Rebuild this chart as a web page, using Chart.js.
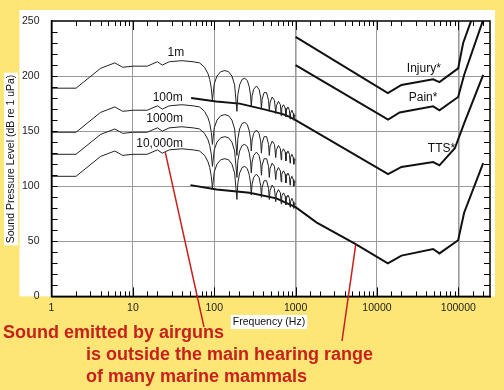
<!DOCTYPE html>
<html>
<head>
<meta charset="utf-8">
<script src="https://cdn.jsdelivr.net/npm/chart.js@4.4.1/dist/chart.umd.min.js"></script>
<style>
  html, body { margin: 0; padding: 0; background: #fde676; }
  #wrap { width: 504px; height: 390px; }
</style>
</head>
<body>
<div id="wrap"><canvas id="spl-chart" width="504" height="390"></canvas></div>
<script>
// airgun source spectrum at different ranges (Hz / dB re 1 uPa)
const srcFreq = [1, 2, 4, 6, 7.5, 10, 15, 20, 23, 28, 40, 55, 66, 76, 84, 88, 92,
  95, 100, 108, 120, 135, 150, 165, 178,
  190, 195, 205, 220, 237, 255, 270, 280,
  285, 292, 305, 330, 355, 372,
  380, 388, 410, 440, 465,
  475, 485, 515, 550,
  570, 580, 615, 650,
  665, 675, 710, 745,
  760, 770, 805, 840,
  855, 865, 900, 935,
  950, 960, 1000];
const spl1m = [189, 189, 207, 212, 208, 209, 209, 213, 210, 213, 214, 213, 212, 208, 202, 197, 189,
  178, 193, 200, 204, 205, 204, 200, 192,
  168, 183, 192, 197, 198, 196, 190, 182,
  172, 182, 188, 191, 188, 181,
  170, 179, 185, 185, 178,
  168, 176, 181, 178,
  166, 173, 177, 174,
  164, 171, 174, 171,
  163, 169, 172, 169,
  161, 166, 169, 166,
  160, 164, 164];
const spl100m = [149, 149, 167, 172, 168, 169, 169, 173, 170, 173, 174, 173, 172, 168, 162, 157, 149,
  138, 153, 160, 164, 165, 164, 160, 152,
  128, 143, 152, 157, 158, 156, 150, 142,
  132, 142, 148, 151, 148, 141,
  130, 139, 145, 145, 138,
  128, 136, 141, 138,
  126, 133, 137, 134,
  124, 131, 134, 131,
  123, 129, 132, 129,
  121, 126, 129, 126,
  120, 124, 124];
const spl1000m = [129, 129, 147, 152, 148, 149, 149, 153, 150, 153, 154, 153, 152, 148, 142, 137, 129,
  118, 133, 140, 144, 145, 144, 140, 132,
  108, 123, 132, 137, 138, 136, 130, 122,
  112, 122, 128, 131, 128, 121,
  110, 119, 125, 125, 118,
  108, 116, 121, 118,
  106, 113, 117, 114,
  104, 111, 114, 111,
  103, 109, 112, 109,
  101, 106, 109, 106,
  100, 104, 104];
const spl10000m = [109, 109, 127, 132, 128, 129, 129, 133, 130, 133, 134, 133, 132, 128, 122, 117, 109,
  98, 113, 120, 124, 125, 124, 120, 112,
  88, 103, 112, 117, 118, 116, 110, 102,
  92, 102, 108, 111, 108, 101,
  90, 99, 105, 105, 98,
  88, 96, 101, 98,
  86, 93, 97, 94,
  84, 91, 94, 91,
  83, 89, 92, 89,
  81, 86, 89, 86,
  80, 84, 84];

// marine mammal thresholds
const injuryFreq = [1000, 13600, 20000, 49000, 58600, 99500, 114600, 145000];
const injurySpl = [235.5, 184.5, 192, 197, 194.5, 207, 230, 251];
const painFreq = [1000, 13700, 19000, 49000, 58600, 99500, 117800, 202000];
const painSpl = [210, 160.5, 167, 172.5, 169, 181, 201, 251];
const ttsFreq = [52, 106, 205, 400, 697, 846, 1000, 13700, 20000, 49000, 58600, 90600, 117800, 202000];
const ttsSpl = [180, 177, 175, 170, 165.5, 163, 160, 111, 117.5, 122, 119, 134.5, 157, 201];
const hearingFreq = [51, 107, 272, 580, 1000, 1820, 5340, 13600, 20000, 49000, 58600, 99500, 117800, 202000];
const hearingSpl = [101, 97, 94, 89, 81, 67, 48, 30, 37, 43, 39, 51, 76, 121];

// axis tick labels
const xTickLabels = ['1', '10', '100', '1000', '10000', '100000'];
const yTickLabels = ['0', '50', '100', '150', '200', '250'];

const FONT = '"Liberation Sans", Arial, Helvetica, sans-serif';
const YELLOW = '#fde676';
const RED = '#c8201c';

function pts(xs, ys) {
    return xs.map((x, i) => ({ x: x, y: ys[i] }));
}

function isDecade(v) {
    const l = Math.log10(v);
    return Math.abs(l - Math.round(l)) < 1e-6;
}

// text labels anchored in data coordinates (left edge, middle)
const curveLabels = [
    { text: '1m', x: 26.7, y: 221 },
    { text: '100m', x: 17.5, y: 180 },
    { text: '1000m', x: 14.6, y: 161 },
    { text: '10,000m', x: 11, y: 139 },
    { text: 'Injury*', x: 23300, y: 207 },
    { text: 'Pain*', x: 24600, y: 180 },
    { text: 'TTS*', x: 42200, y: 134 }
];

const framePlugin = {
    id: 'frame',
    beforeDraw(chart) {
        const { ctx, chartArea: a } = chart;
        ctx.save();
        ctx.fillStyle = YELLOW;
        ctx.fillRect(0, 0, chart.width, chart.height);
        ctx.fillStyle = '#fff';
        ctx.fillRect(a.left - 32, a.top - 11, a.right - a.left + 37, a.bottom - a.top + 11);
        ctx.restore();
    },
    afterDraw(chart) {
        const { ctx, chartArea: a, scales } = chart;
        const x = scales.x, y = scales.y;
        ctx.save();
        // frame
        ctx.strokeStyle = '#000';
        ctx.lineWidth = 1.5;
        ctx.strokeRect(a.left, a.top, a.right - a.left, a.bottom - a.top);

        // inward ticks
        ctx.lineWidth = 1;
        ctx.beginPath();
        x.ticks.forEach(t => {
            if (t.value <= 1 || t.value >= x.max) return;
            const px = Math.round(x.getPixelForValue(t.value)) + 0.5;
            const len = isDecade(t.value) ? 9 : 5;
            ctx.moveTo(px, a.bottom); ctx.lineTo(px, a.bottom - len);
            ctx.moveTo(px, a.top); ctx.lineTo(px, a.top + len);
        });
        y.ticks.forEach(t => {
            if (t.value <= 0 || t.value >= 250) return;
            const py = Math.round(y.getPixelForValue(t.value)) + 0.5;
            ctx.moveTo(a.left, py); ctx.lineTo(a.left + 6, py);
            ctx.moveTo(a.right, py); ctx.lineTo(a.right - 6, py);
        });
        ctx.stroke();

        // curve labels
        ctx.fillStyle = '#111';
        ctx.font = '12px ' + FONT;
        ctx.textBaseline = 'middle';
        curveLabels.forEach(l => {
            ctx.fillText(l.text, x.getPixelForValue(l.x), y.getPixelForValue(l.y));
        });

        // axis titles on white boxes
        ctx.font = '10.5px ' + FONT;
        const xt = 'Frequency (Hz)';
        const xw = ctx.measureText(xt).width;
        const xc = 269;
        ctx.fillStyle = '#fff';
        ctx.fillRect(xc - xw / 2 - 2, 315, xw + 4, 14);
        ctx.fillStyle = '#111';
        ctx.textAlign = 'center';
        ctx.fillText(xt, xc, 322);

        const yt = 'Sound Pressure Level (dB re 1 uPa)';
        const yw = ctx.measureText(yt).width;
        ctx.translate(11, 159);
        ctx.rotate(-Math.PI / 2);
        ctx.fillStyle = '#fff';
        ctx.fillRect(-yw / 2 - 2, -7, yw + 4, 14);
        ctx.fillStyle = '#111';
        ctx.fillText(yt, 0, 0);
        ctx.setTransform(1, 0, 0, 1, 0, 0);

        // red annotation
        ctx.strokeStyle = RED;
        ctx.lineWidth = 1.5;
        ctx.beginPath();
        ctx.moveTo(x.getPixelForValue(25), y.getPixelForValue(131));
        ctx.lineTo(204, 327);
        ctx.moveTo(x.getPixelForValue(5480), y.getPixelForValue(47));
        ctx.lineTo(342, 341);
        ctx.stroke();
        ctx.fillStyle = RED;
        ctx.textAlign = 'left';
        ctx.font = 'bold 18px ' + FONT;
        ctx.fillText('Sound emitted by airguns', 3, 333);
        ctx.fillText('is outside the main hearing range', 86, 355);
        ctx.fillText('of many marine mammals', 86, 377);
        ctx.restore();
    }
};

const thin = { borderColor: '#222', borderWidth: 1, pointRadius: 0, tension: 0, fill: false };
const thick = { borderColor: '#111', borderWidth: 2, pointRadius: 0, tension: 0, fill: false };

const data = {
    datasets: [
        { label: '1m', data: pts(srcFreq, spl1m), ...thin },
        { label: '100m', data: pts(srcFreq, spl100m), ...thin },
        { label: '1000m', data: pts(srcFreq, spl1000m), ...thin },
        { label: '10,000m', data: pts(srcFreq, spl10000m), ...thin },
        { label: 'Injury*', data: pts(injuryFreq, injurySpl), ...thick },
        { label: 'Pain*', data: pts(painFreq, painSpl), ...thick },
        { label: 'TTS*', data: pts(ttsFreq, ttsSpl), ...thick },
        { label: 'Hearing', data: pts(hearingFreq, hearingSpl), ...thick }
    ]
};

const options = {
    responsive: false,
    animation: false,
    layout: { padding: { left: 10, right: 14, top: 21, bottom: 71 } },
    plugins: { legend: { display: false }, tooltip: { enabled: false } },
    scales: {
        x: {
            type: 'logarithmic',
            min: 1,
            max: 245000,
            border: { color: '#000', width: 1.5 },
            grid: {
                drawTicks: false,
                color: ctx => (ctx.tick && isDecade(ctx.tick.value) && ctx.tick.value > 1) ? '#9a9a9a' : 'rgba(0,0,0,0)',
                lineWidth: ctx => (ctx.tick && (ctx.tick.value === 1000 || ctx.tick.value === 100000)) ? 1.6 : 1
            },
            ticks: {
                autoSkip: false,
                maxRotation: 0,
                padding: 5,
                color: '#222',
                font: { family: FONT, size: 10.5 },
                callback: v => {
                    const s = String(Math.round(v));
                    return xTickLabels.includes(s) && isDecade(v) ? s : '';
                }
            }
        },
        y: {
            min: 0,
            max: 250,
            border: { color: '#000', width: 1.5 },
            grid: {
                drawTicks: false,
                color: ctx => (ctx.tick && ctx.tick.value % 50 === 0 && ctx.tick.value > 0 && ctx.tick.value < 250) ? '#9a9a9a' : 'rgba(0,0,0,0)'
            },
            ticks: {
                stepSize: 10,
                autoSkip: false,
                padding: 12,
                color: '#222',
                font: { family: FONT, size: 10.5 },
                callback: v => yTickLabels.includes(String(v)) ? String(v) : ''
            }
        }
    }
};

const splChart = new Chart(document.querySelector('#spl-chart'), {
    type: 'line',
    data,
    options,
    plugins: [framePlugin]
});
</script>
</body>
</html>
